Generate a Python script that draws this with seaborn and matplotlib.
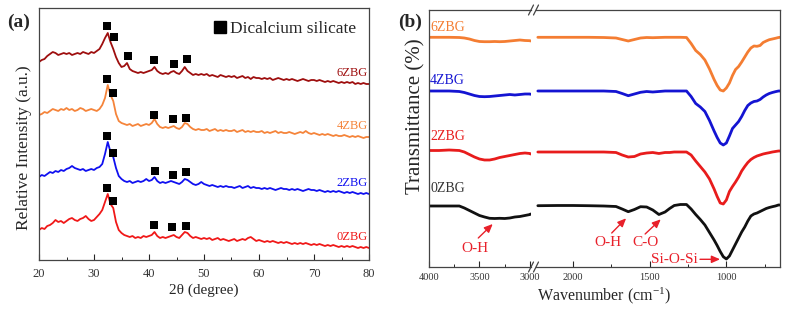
import numpy as np
import pandas as pd
import matplotlib
matplotlib.use('Agg')
import matplotlib.pyplot as plt
from matplotlib.lines import Line2D
from matplotlib.ticker import MultipleLocator, FixedLocator
import seaborn as sns

# ---------------- (a) XRD patterns (stacked) ----------------
two_theta = np.arange(20, 80.5, 0.5)

xrd_0zbg = [30, 32, 31, 34, 35, 37, 40, 38, 39, 37,
            39, 41, 42, 40, 39, 41, 42, 44, 41, 39,
            40, 43, 46, 50, 58, 66, 56, 52, 38, 30,
            27, 25, 24, 23, 24, 22, 23, 22, 24, 23,
            24, 25, 28, 24, 22, 23, 22, 23, 24, 25,
            23, 22, 25, 28, 27, 24, 22, 23, 22, 21,
            22, 21, 22, 20, 21, 22, 20, 21, 20, 19,
            20, 21, 19, 20, 21, 20, 22, 23, 21, 19,
            20, 19, 18, 19, 18, 19, 18, 17, 18, 17,
            18, 17, 16, 17, 16, 17, 16, 17, 16, 15,
            16, 15, 16, 15, 14, 15, 14, 15, 14, 13,
            14, 13, 14, 13, 14, 13, 12, 13, 12, 13,
            12]
xrd_2zbg = [83, 85, 84, 86, 88, 87, 89, 88, 90, 89,
            91, 92, 94, 92, 91, 90, 91, 89, 90, 91,
            90, 92, 93, 96, 106, 118, 108, 103, 92, 84,
            81, 79, 78, 79, 77, 78, 79, 78, 79, 81,
            79, 80, 83, 79, 77, 78, 77, 78, 79, 78,
            77, 76, 78, 81, 80, 78, 76, 75, 76, 78,
            76, 75, 74, 75, 74, 73, 74, 73, 74, 73,
            73, 72, 73, 74, 72, 73, 74, 72, 73, 72,
            72, 71, 72, 71, 72, 71, 70, 71, 72, 71,
            71, 70, 71, 70, 71, 70, 69, 70, 71, 70,
            70, 69, 70, 69, 68, 69, 68, 69, 68, 69,
            68, 67, 68, 67, 68, 67, 66, 67, 66, 67,
            66]
xrd_4zbg = [145, 146, 148, 147, 149, 151, 150, 149, 151, 150,
            152, 150, 151, 149, 150, 152, 151, 149, 150, 151,
            150, 149, 151, 155, 162, 175, 165, 159, 146, 139,
            137, 136, 135, 136, 134, 135, 136, 134, 135, 136,
            135, 137, 141, 136, 133, 132, 133, 132, 133, 134,
            132, 131, 133, 137, 136, 133, 131, 130, 131, 130,
            130, 131, 129, 130, 131, 129, 130, 129, 130, 129,
            129, 130, 128, 129, 130, 128, 129, 128, 129, 128,
            128, 129, 127, 128, 127, 128, 129, 127, 128, 127,
            127, 128, 127, 126, 127, 128, 127, 129, 127, 126,
            127, 126, 125, 126, 125, 126, 125, 124, 125, 124,
            124, 125, 124, 123, 124, 123, 124, 123, 122, 123,
            123]
xrd_6zbg = [198, 200, 201, 204, 206, 208, 207, 205, 206, 207,
            206, 207, 205, 206, 207, 206, 208, 207, 206, 208,
            207, 209, 211, 216, 222, 227, 218, 211, 203, 197,
            193, 194, 197, 191, 189, 188, 187, 188, 187, 188,
            189, 190, 193, 189, 187, 186, 187, 186, 188, 189,
            187, 186, 189, 193, 189, 187, 185, 186, 185, 186,
            185, 186, 184, 185, 184, 183, 185, 184, 183, 184,
            183, 184, 182, 183, 184, 182, 183, 181, 183, 182,
            182, 181, 182, 181, 182, 180, 181, 182, 181, 180,
            181, 180, 181, 180, 179, 180, 181, 180, 179, 180,
            180, 179, 180, 179, 178, 179, 178, 179, 178, 177,
            178, 177, 178, 177, 178, 176, 177, 176, 177, 176,
            176]

xrd_samples = ['0ZBG', '2ZBG', '4ZBG', '6ZBG']
xrd_colors = {'0ZBG': '#f01818', '2ZBG': '#1010f0', '4ZBG': '#f5843a', '6ZBG': '#9e0e0e'}

# Dicalcium silicate reflections marked with squares
c2s_x = {'0ZBG': [32.4, 33.5, 40.9, 44.2, 46.7],
         '2ZBG': [32.4, 33.5, 41.1, 44.4, 46.7],
         '4ZBG': [32.4, 33.5, 40.9, 44.4, 46.7],
         '6ZBG': [32.4, 33.6, 36.2, 40.9, 44.5, 46.9]}
c2s_y = {'0ZBG': [72, 59, 35, 33, 34],
         '2ZBG': [124, 107, 89, 85, 88],
         '4ZBG': [181, 167, 145, 141, 142],
         '6ZBG': [234, 223, 204, 200, 196, 201]}

# ---------------- (b) FTIR spectra (stacked) ----------------
wn_left = [4000, 3900, 3800, 3700, 3650, 3600, 3550, 3500, 3450, 3400,
           3350, 3300, 3250, 3200, 3150, 3100, 3050, 3000, 2995]
wn_right = [2230, 2100, 2000, 1900, 1800, 1720, 1680, 1640, 1600, 1560,
            1520, 1480, 1440, 1400, 1370, 1340, 1300, 1260, 1230, 1200,
            1170, 1140, 1110, 1080, 1060, 1040, 1020, 1000, 980, 960,
            940, 920, 900, 880, 860, 840, 820, 800, 780, 760,
            740, 720, 700, 680, 660, 650]

ftir_0zbg_left = [61, 61, 61, 61, 59, 56.5, 54, 51.5, 50, 48.7,
                  48.5, 48.7, 48.5, 49, 50, 50.5, 51.5, 52.5, 53]
ftir_2zbg_left = [116.5, 116.5, 117, 116.5, 115, 112.5, 110, 108, 107, 107,
                  108, 109.5, 110.5, 111.5, 112.5, 113.5, 114, 113.5, 113]
ftir_4zbg_left = [176, 176, 176, 175.5, 174.5, 173, 171.5, 170.5, 170.3, 170.5,
                  171, 171.5, 172, 172.5, 172, 172.5, 173, 173, 172.7]
ftir_6zbg_left = [229.7, 229.7, 229.7, 229.5, 229, 228, 226.5, 225.5, 225.3, 225.3,
                  225.5, 225.3, 225.5, 226, 226.5, 227, 226.5, 226.3, 226]

ftir_0zbg_right = [61.3, 61.5, 61.5, 61.3, 61, 60.5, 58, 55.3, 57.5, 60.3,
                   60, 57, 52.5, 55, 58.5, 61.5, 62.5, 62.5, 58, 52.5,
                   47.5, 42, 34.5, 27, 21.5, 15.5, 10.3, 8, 11, 17,
                   23, 29, 35, 40, 46, 51, 53, 54, 55.5, 57,
                   58.5, 59.5, 60.3, 61, 62, 62]
ftir_2zbg_right = [115, 115, 115, 115, 115, 114.5, 112, 110, 110.5, 113,
                   114, 114.5, 113.5, 114.5, 114.5, 115, 115, 115, 112, 106,
                   100.5, 95, 88, 78, 70.5, 64, 63, 67, 75.5, 80.5,
                   85, 90, 96, 100.5, 104.5, 107.5, 109.5, 111, 112, 113,
                   113.7, 114.3, 115, 115.5, 116, 116]
ftir_4zbg_right = [176, 176, 176, 176, 176, 175.5, 173.5, 171.3, 173, 174.7,
                   175.5, 175, 175.5, 176, 176, 176, 176, 176, 170.5, 163.5,
                   160, 155.5, 146.5, 136, 129.5, 124, 122, 124, 131, 138.5,
                   142, 145.5, 150.5, 156.5, 161.5, 164, 165.5, 166, 167.5, 170,
                   172, 173.5, 174.5, 175.3, 176, 176]
ftir_6zbg_right = [229.7, 229.7, 229.7, 229.7, 229.5, 229, 227.5, 226, 227.5, 229,
                   229.5, 229.3, 229.5, 229.7, 229.7, 229.7, 229.7, 229.5, 223.5, 216.5,
                   212.5, 207, 198, 187.5, 181.5, 177, 176, 179, 184, 191.5,
                   197.5, 200.5, 205, 210, 215, 219, 221, 220.7, 221.5, 224.5,
                   226, 227.3, 228, 228.7, 229.5, 229.7]

ftir_samples = ['0ZBG', '2ZBG', '4ZBG', '6ZBG']
ftir_colors = {'0ZBG': '#111111', '2ZBG': '#e81c1c', '4ZBG': '#1414d2', '6ZBG': '#f47d32'}
ftir_label_colors = {'0ZBG': '#333333', '2ZBG': '#e81c1c', '4ZBG': '#1414d2', '6ZBG': '#f47d32'}
ann_red = '#e8202a'

# band assignments: label, label position, arrow tail, arrow tip (wavenumber, transmittance)
bands_left = [('O-H', (3545, 18), (3512, 29), (3369, 43))]
bands_right = [('O-H', (1770, 24), (1748, 34), (1654, 48.7)),
               ('C-O', (1530, 24), (1530, 33), (1428, 47.7)),
               ('Si-O-Si', (1340, 7.5), (1172, 7.7), (1041, 7.7))]


def main():
    sns.set_style('ticks')
    plt.rcParams['font.family'] = ['Liberation Serif', 'DejaVu Serif']
    plt.rcParams['mathtext.fontset'] = 'custom'
    plt.rcParams['mathtext.rm'] = 'Liberation Serif'
    plt.rcParams['mathtext.it'] = 'Liberation Serif:italic'
    plt.rcParams['axes.edgecolor'] = '#444444'
    plt.rcParams['axes.linewidth'] = 0.9

    df_xrd = pd.concat([pd.DataFrame({'two_theta': two_theta, 'intensity': v, 'sample': s})
                        for s, v in zip(xrd_samples, [xrd_0zbg, xrd_2zbg, xrd_4zbg, xrd_6zbg])])

    lefts = [ftir_0zbg_left, ftir_2zbg_left, ftir_4zbg_left, ftir_6zbg_left]
    rights = [ftir_0zbg_right, ftir_2zbg_right, ftir_4zbg_right, ftir_6zbg_right]
    df_left = pd.concat([pd.DataFrame({'wn': wn_left, 'T': v, 'sample': s})
                         for s, v in zip(ftir_samples, lefts)])
    df_right = pd.concat([pd.DataFrame({'wn': wn_right, 'T': v, 'sample': s})
                          for s, v in zip(ftir_samples, rights)])

    W, H = 786, 314
    fig = plt.figure(figsize=(W / 100, H / 100), dpi=100)

    # ---------------- panel (a) ----------------
    ax_a = fig.add_axes([39 / W, 54 / H, 330 / W, 252 / H])
    sns.lineplot(data=df_xrd, x='two_theta', y='intensity', hue='sample', palette=xrd_colors,
                 estimator=None, lw=1.3, legend=False, ax=ax_a)
    for s in xrd_samples:
        sns.scatterplot(x=c2s_x[s], y=c2s_y[s], marker='s', color='black', s=26,
                        linewidth=0, ax=ax_a, zorder=5)
    xrd_end = {'0ZBG': xrd_0zbg[-1], '2ZBG': xrd_2zbg[-1], '4ZBG': xrd_4zbg[-1], '6ZBG': xrd_6zbg[-1]}
    for s in xrd_samples:
        ax_a.text(79.8, xrd_end[s] + 11, s, color=xrd_colors[s], fontsize=9,
                  ha='right', va='center')

    ax_a.set_xlim(20, 80)
    ax_a.set_ylim(0, 252)
    ax_a.set_yticks([])
    ax_a.xaxis.set_major_locator(MultipleLocator(10))
    ax_a.xaxis.set_minor_locator(MultipleLocator(5))
    ax_a.tick_params(axis='x', which='major', direction='in', length=4, width=0.8,
                     labelsize=9, labelcolor='#333333', pad=6)
    ax_a.tick_params(axis='x', which='minor', direction='in', length=2, width=0.7)
    ax_a.set_xlabel('')
    ax_a.set_ylabel('')

    handle = Line2D([], [], marker='s', color='black', ls='none', markersize=8)
    ax_a.legend([handle], ['Dicalcium silicate'], loc='upper right', bbox_to_anchor=(0.96, 0.95),
                frameon=False, fontsize=12.5, handlelength=0.7, handletextpad=0.2,
                borderpad=0, borderaxespad=0)

    fig.text(204 / W, 1 - 290 / H, '2θ (degree)', ha='center', va='center', fontsize=11)
    fig.text(24 / W, 1 - 148 / H, 'Relative Intensity (a.u.)', ha='center', va='center',
             rotation=90, fontsize=12.5)
    fig.text(7 / W, 1 - 22 / H, '(a)', ha='left', va='center', fontsize=14, fontweight='bold')

    # ---------------- panel (b): broken wavenumber axis ----------------
    ax_l = fig.add_axes([429 / W, 47 / H, 102 / W, 257 / H])
    ax_r = fig.add_axes([536 / W, 47 / H, 244 / W, 257 / H])
    sns.lineplot(data=df_left, x='wn', y='T', hue='sample', palette=ftir_colors,
                 estimator=None, sort=False, lw=2.0, legend=False, ax=ax_l)
    sns.lineplot(data=df_right, x='wn', y='T', hue='sample', palette=ftir_colors,
                 estimator=None, sort=False, lw=2.0, legend=False, ax=ax_r)

    for ax in (ax_l, ax_r):
        ax.set_ylim(0, 257)
        ax.set_yticks([])
        ax.set_xlabel('')
        ax.set_ylabel('')
        ax.tick_params(axis='x', which='major', direction='in', length=4, width=0.8,
                       labelsize=7.5, labelcolor='#333333', pad=4)
        ax.tick_params(axis='x', which='minor', direction='in', length=2, width=0.7)
    ax_l.set_xlim(4000, 2990)
    ax_r.set_xlim(2242, 650)
    ax_l.xaxis.set_major_locator(FixedLocator([4000, 3500, 3000]))
    ax_l.xaxis.set_minor_locator(FixedLocator([3750, 3250]))
    ax_r.xaxis.set_major_locator(FixedLocator([2000, 1500, 1000]))
    ax_r.xaxis.set_minor_locator(FixedLocator([1750, 1250, 750]))
    ax_l.spines['right'].set_visible(False)
    ax_r.spines['left'].set_visible(False)

    # break marks
    for ax, xb, wpx in ((ax_l, 1.0, 102), (ax_r, 0.0, 244)):
        dx = 2.5 / wpx
        dy = 5.0 / 257
        for yb in (0.0, 1.0):
            ax.plot([xb - dx, xb + dx], [yb - dy, yb + dy], transform=ax.transAxes,
                    color='#444444', lw=0.9, clip_on=False)

    base = {'0ZBG': ftir_0zbg_left[0], '2ZBG': ftir_2zbg_left[0],
            '4ZBG': ftir_4zbg_left[0], '6ZBG': ftir_6zbg_left[0]}
    lift = {'0ZBG': 18, '2ZBG': 14, '4ZBG': 11, '6ZBG': 10}
    for s in ftir_samples:
        ax_l.text(3990, base[s] + lift[s], s, color=ftir_label_colors[s], fontsize=10,
                  ha='left', va='center')

    arrow = dict(arrowstyle='-|>,head_length=0.5,head_width=0.22', color=ann_red, lw=1.0,
                 shrinkA=0, shrinkB=0)
    for ax, bands in ((ax_l, bands_left), (ax_r, bands_right)):
        for label, pos, tail, tip in bands:
            ax.text(pos[0], pos[1], label, color=ann_red, fontsize=11, ha='center', va='center')
            ax.annotate('', xy=tip, xytext=tail, arrowprops=arrow, annotation_clip=False)

    fig.text(604 / W, 1 - 296 / H, r'Wavenumber (cm$^{-1}$)', ha='center', va='center', fontsize=11.5)
    fig.text(416 / W, 1 - 116 / H, 'Transmittance (%)', ha='center', va='center',
             rotation=90, fontsize=15)
    fig.text(398 / W, 1 - 22 / H, '(b)', ha='left', va='center', fontsize=14, fontweight='bold')

    fig.savefig('out.png', dpi=100)
    plt.close(fig)


if __name__ == '__main__':
    main()
